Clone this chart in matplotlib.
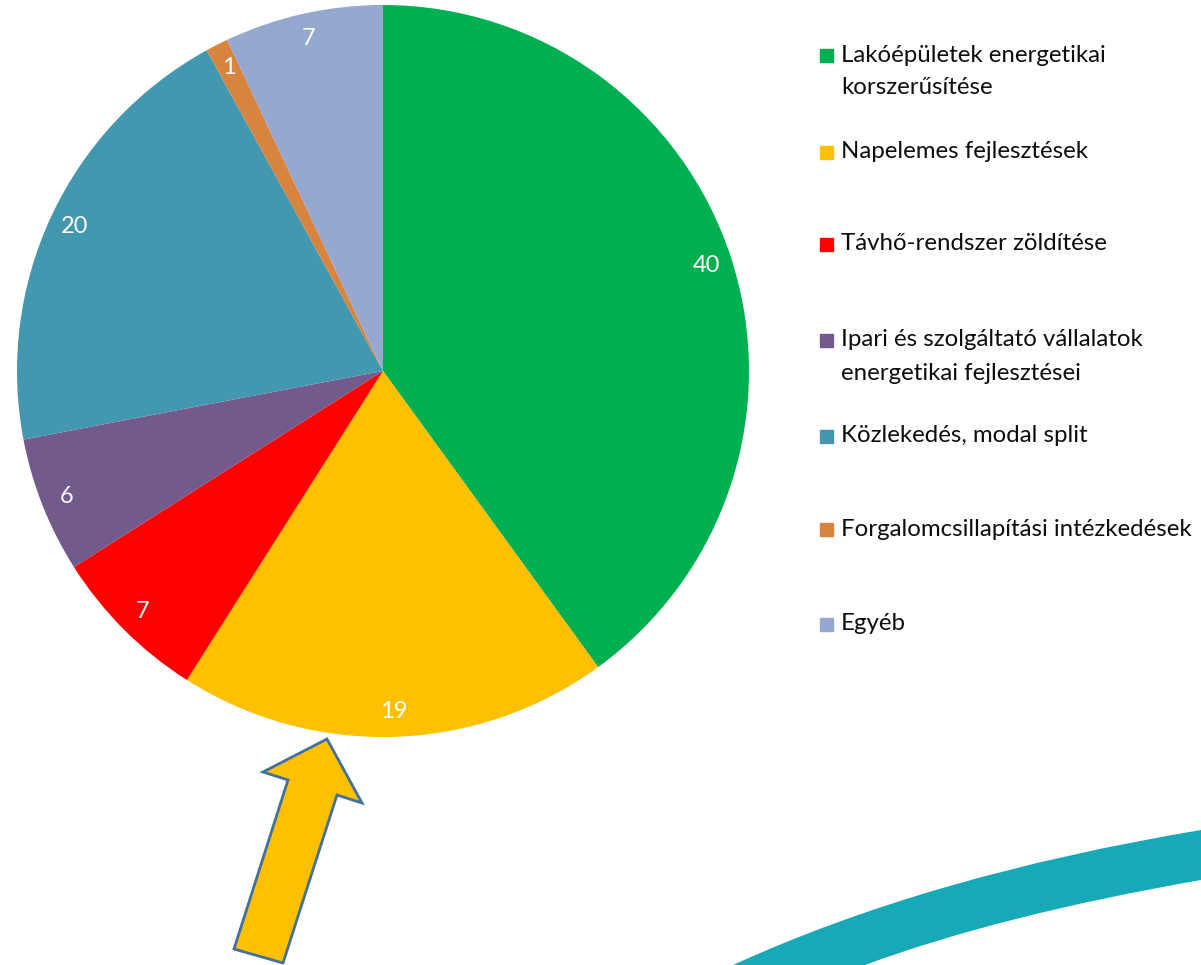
import matplotlib.pyplot as plt
from matplotlib.patches import Polygon, PathPatch
from matplotlib.path import Path

plt.rcParams['font.family'] = ['Lato', 'DejaVu Sans']

# adatok
categories = [
    'Lakóépületek energetikai\nkorszerűsítése',
    'Napelemes fejlesztések',
    'Távhő-rendszer zöldítése',
    'Ipari és szolgáltató vállalatok\nenergetikai fejlesztései',
    'Közlekedés, modal split',
    'Forgalomcsillapítási intézkedések',
    'Egyéb',
]
values = [40, 19, 7, 6, 20, 1, 7]
colors = ['#00B050', '#FFC000', '#FF0000', '#725A8C', '#4397AE', '#D9843E', '#95A8D0']

W, H = 1201, 965
fig = plt.figure(figsize=(W / 100, H / 100), dpi=100)
ax = fig.add_axes([0, 0, 1, 1])

total = sum(values)
wedges, _, autotexts = ax.pie(
    values, colors=colors, startangle=90, counterclock=False,
    center=(383, H - 371), radius=366, frame=True,
    autopct=lambda p: f'{round(p * total / 100):d}', pctdistance=0.93,
    textprops=dict(color='white', fontsize=17),
)
ax.set_xlim(0, W)
ax.set_ylim(0, H)
ax.set_aspect('equal')
ax.axis('off')

# jelmagyarázat kézzel, a képen látható elrendezésben
legend_y = [55, 152, 244, 340, 436, 529, 624]
line_gap = 33
for cat, col, y in zip(categories, colors, legend_y):
    ax.add_patch(plt.Rectangle((820, H - y - 6.5), 13, 13, color=col))
    for i, line in enumerate(cat.split('\n')):
        ax.text(841, H - y - i * line_gap, line, fontsize=17.3,
                va='center', ha='left', color='#0d0d0d')

# sárga nyíl
arrow = [(327, 739), (362, 803), (337, 795), (283, 963), (234, 949),
         (288, 780), (263, 772)]
ax.add_patch(Polygon([(x, H - y) for x, y in arrow], closed=True,
                     facecolor='#FFC000', edgecolor='#41719C', linewidth=2))

# türkiz ív a jobb alsó sarokban
verts = [(733, 965), (930, 875), (1201, 830), (1201, 880),
         (1000, 915), (865, 965), (733, 965)]
codes = [Path.MOVETO, Path.CURVE3, Path.CURVE3, Path.LINETO,
         Path.CURVE3, Path.CURVE3, Path.CLOSEPOLY]
swoosh = Path([(x, H - y) for x, y in verts], codes)
ax.add_patch(PathPatch(swoosh, facecolor='#17A9B8', edgecolor='none'))

fig.savefig('out.png', dpi=100)
